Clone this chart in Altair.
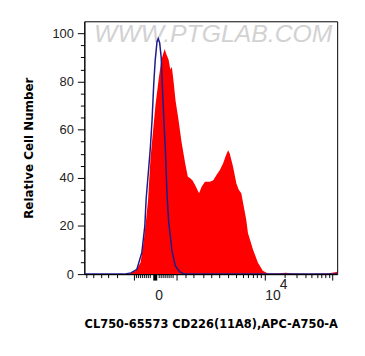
import altair as alt
import pandas as pd

# x positions are in display units of the biexponential axis (0 = zero, 111 = 10^4)
red_x = [-26, -19.3, -14.3, -11, -8.7, -6.7, -4.3, 0.7, 4, 6.7, 10, 12, 14, 15.7, 17.3, 19, 21, 24, 27,
         30.7, 33.3, 35.7, 38, 40.7, 44.7, 47.3, 50.7, 55.7, 59, 62.3, 65.7, 69, 71.3, 74, 75.7, 79,
         82.3, 84.7, 87.3, 92.3, 94, 99, 104, 109, 114, 124, 132, 139, 154, 174, 182, 184]
red_y = [0, 1.4, 4.8, 14, 22.6, 31, 48, 70, 81, 89, 93.5, 91, 89, 85, 86, 80, 72, 64, 55,
         46, 40.5, 39.8, 39, 37, 33.6, 36.3, 38.4, 38.4, 39, 41.2, 43.2, 46, 48.7, 51.4, 50, 44.6,
         37.7, 35, 33.6, 22.6, 17.1, 10.3, 4.8, 1.4, 0.3, 0.3, 0.6, 0.3, 0.2, 0.3, 0.8, 1]

blue_x = [-71, -31, -24, -18, -13, -10, -8.7, -6.5, -4.5, -2.7, -1, 0.5, 2.3, 3.5, 5, 6.5, 7.5, 9,
          10.7, 12.3, 14, 17.3, 20.7, 25, 30, 184]
blue_y = [0, 0, 0.5, 2, 9, 20, 31, 42, 52, 64, 79, 89, 96.5, 97.8, 96, 90, 80, 66,
          52, 34, 22, 10, 3.5, 1, 0, 0]

x_ticks = [-69, -62, -54, -47, -38, -21, -19, -17, -15, -13, -11, -9, -7, -5, 0,
           4, 6, 8, 10, 12, 14, 16, 18, 21.5, 31, 39, 49, 57, 65, 74, 82, 89, 94, 99, 103, 107,
           111, 131, 143, 152, 158, 164, 168, 172, 176, 179]
x_major = [-21, 0, 21.5, 111, 179]
y_ticks = list(range(0, 101, 5))

red_df = pd.DataFrame({"x": red_x, "y": red_y})
blue_df = pd.DataFrame({"x": blue_x, "y": blue_y})

major_test = " || ".join(f"datum.value == {v}" for v in x_major)

x_scale = alt.Scale(domain=[-71, 184], nice=False, zero=False)
y_scale = alt.Scale(domain=[0, 105], nice=False, zero=False)

x_axis = alt.Axis(
    values=x_ticks,
    title="CL750-65573 CD226(11A8),APC-A750-A",
    titleFont="DejaVu Sans", titleFontSize=11.5, titleFontWeight="bold", titleColor="black",
    titlePadding=16,
    labelExpr="datum.value == 0 ? '0' : (datum.value == 111 ? '10' : '')",
    labelFont="Liberation Sans", labelFontSize=14, labelColor="#222",
    labelAlign={"condition": {"test": "datum.value == 111", "value": "left"}, "value": "center"},
    labelOffset={"condition": {"test": "datum.value == 0", "value": 4}, "value": 0},
    labelPadding=9, labelOverlap=False, labelFlush=False,
    tickSize={"condition": {"test": major_test, "value": 6}, "value": 3.5},
    tickWidth={"condition": {"test": "datum.value == 0", "value": 4}, "value": 1},
    tickColor="black", domainColor="black", grid=False,
)
y_axis = alt.Axis(
    values=y_ticks,
    title="Relative Cell Number",
    titleFont="DejaVu Sans", titleFontSize=12, titleFontWeight="bold", titleColor="black",
    titlePadding=17,
    labelExpr="datum.value % 20 == 0 ? datum.label : ''",
    labelFont="Liberation Sans", labelFontSize=13, labelColor="#222",
    labelPadding=4, labelOverlap=False,
    tickSize={"condition": {"test": "datum.value % 20 == 0", "value": 7}, "value": 4},
    tickColor="black", domainColor="black", grid=False,
)

watermark = alt.Chart(pd.DataFrame({"t": ["WWW.PTGLAB.COM"]})).mark_text(
    font="Liberation Sans", fontSize=25, fontStyle="italic", color="#c8c8c8",
    opacity=0.8, align="center", baseline="middle",
).encode(text="t:N", x=alt.value(130), y=alt.value(13))

red = alt.Chart(red_df).mark_area(color="#ff0000", clip=True, interpolate="linear").encode(
    x=alt.X("x:Q", scale=x_scale, axis=x_axis),
    y=alt.Y("y:Q", scale=y_scale, axis=y_axis, stack=None),
)
blue = alt.Chart(blue_df).mark_line(color="#1c1c8c", strokeWidth=1.5, clip=True).encode(
    x=alt.X("x:Q", scale=x_scale, axis=x_axis),
    y=alt.Y("y:Q", scale=y_scale, axis=y_axis),
)
sup = alt.Chart(pd.DataFrame({"x": [111], "t": ["4"]})).mark_text(
    font="Liberation Sans", fontSize=14, color="#222", dx=19, baseline="middle", align="center",
).encode(x=alt.X("x:Q", scale=x_scale, axis=x_axis), y=alt.value(266), text="t:N")

chart = alt.layer(watermark, red, blue, sup).properties(
    width=255, height=255,
    autosize="none",
    padding={"left": 77, "top": 12, "right": 20, "bottom": 60},
).configure_view(stroke="black", strokeWidth=1)

chart.save("out.html", embed_options={"renderer": "svg", "actions": False})
